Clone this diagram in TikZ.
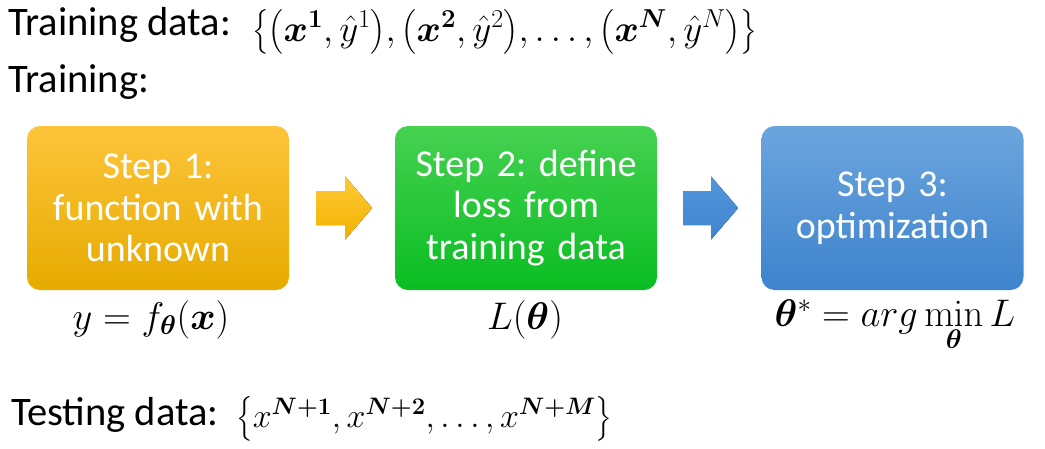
\RequirePackage{fix-cm}
\documentclass[tikz,border=0pt]{standalone}
\usepackage{amsmath,bm}
\usepackage[no-math]{fontspec}
\setmainfont{Carlito}
\frenchspacing
\usetikzlibrary{calc}
\definecolor{orgTop}{HTML}{FDC43A}
\definecolor{orgBot}{HTML}{E6AB00}
\definecolor{grnTop}{HTML}{46D151}
\definecolor{grnBot}{HTML}{0ABD22}
\definecolor{bluTop}{HTML}{6CA5DE}
\definecolor{bluBot}{HTML}{3D83CC}
\definecolor{oarTop}{HTML}{FFC936}
\definecolor{oarBot}{HTML}{F2B200}
\definecolor{barTop}{HTML}{5297DC}
\definecolor{barBot}{HTML}{3F84CE}
\begin{document}
\begin{tikzpicture}[x=1pt,y=-1pt,
  stepbox/.style={rounded corners=13pt, minimum width=262pt, minimum height=164pt,
    text width=255pt, align=center, text=white, inner sep=0pt,
    font=\fontsize{38}{41.5}\selectfont},
  label/.style={anchor=base west, inner sep=0pt, font=\fontsize{40.5}{45}\selectfont},
  mathlabel/.style={anchor=base, inner sep=0pt, font=\fontsize{38.5}{43}\selectfont}]
\useasboundingbox (0,0) rectangle (1045,448);

\node[label] (td) at (8,35) {Training data:};
\node[mathlabel, anchor=base west, font=\fontsize{37}{43}\selectfont] (tdm) at (252,41) {$\bigl\{\bigl(\bm{x}^{\mathbf{1}},\hat{y}^{1}\bigr),\bigl(\bm{x}^{\mathbf{2}},\hat{y}^{2}\bigr),\ldots,\bigl(\bm{x}^{\bm{N}},\hat{y}^{N}\bigr)\bigr\}$};
\node[label] (tr) at (8,92) {Training:};

\node[stepbox, top color=orgTop, bottom color=orgBot] (b1) at (158,208) {Step 1:\\function with\\unknown};
\node[stepbox, top color=grnTop, bottom color=grnBot] (b2) at (526,208) {Step 2: define\\loss from\\training data};
\node[stepbox, top color=bluTop, bottom color=bluBot] (b3) at (892.5,208) {Step 3:\\optimization};

\fill[top color=oarTop, bottom color=oarBot, shift={(b1.east)}]
  (27,-17) -- (56,-17) -- (56,-31.5) -- (83,0) -- (56,31.5) -- (56,17) -- (27,17) -- cycle;
\fill[top color=barTop, bottom color=barBot, shift={(b2.east)}]
  (26,-17) -- (54,-17) -- (54,-31.5) -- (81,0) -- (54,31.5) -- (54,17) -- (26,17) -- cycle;

\node[mathlabel] (f1) at (151,329) {$y=f_{\bm{\theta}}(\bm{x})$};
\node[mathlabel] (f2) at (525,329) {$L(\bm{\theta})$};
\node[mathlabel] (f3) at (895,326) {$\bm{\theta}^{*}=arg\min\limits_{\bm{\theta}}L$};

\node[label] (te) at (11,425) {Testing data:};
\node[mathlabel, anchor=base west, font=\fontsize{34}{40}\selectfont] (tem) at (236,427) {$\big\{x^{\bm{N+1}},x^{\bm{N+2}},\ldots,x^{\bm{N+M}}\big\}$};
\end{tikzpicture}
\end{document}
